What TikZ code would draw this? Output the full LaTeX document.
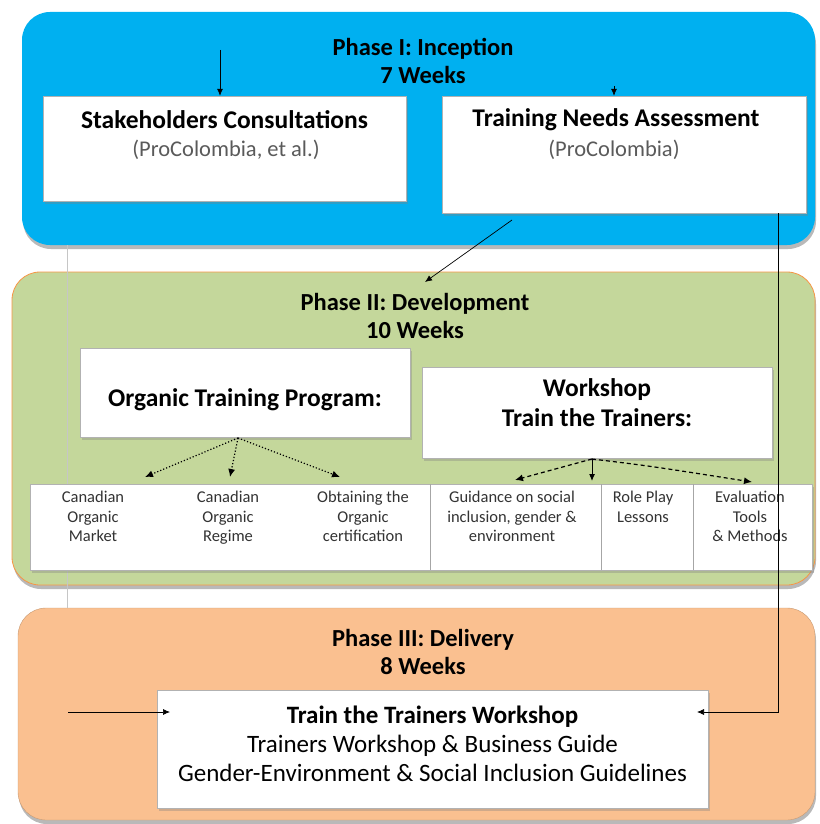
\documentclass[tikz,border=0pt]{standalone}
\usepackage{fontspec}
\setmainfont{Carlito}
\usetikzlibrary{shadows,arrows.meta}
\definecolor{pblue}{RGB}{0,176,240}
\definecolor{pgreen}{RGB}{196,215,155}
\definecolor{porange}{RGB}{247,150,70}
\definecolor{ppeach}{RGB}{250,192,144}
\definecolor{subgray}{RGB}{90,90,90}
\tikzset{
  phase/.style={rounded corners=28pt, drop shadow={shadow xshift=1pt, shadow yshift=-4pt, opacity=0.55}},
  wbox/.style={fill=white, draw=gray!60, line width=0.4pt, drop shadow={shadow xshift=2pt, shadow yshift=-3pt, opacity=0.35}},
  ttl/.style={font=\fontsize{24.5}{28}\selectfont\bfseries, align=center},
  boxttl/.style={font=\fontsize{25.5}{30}\selectfont\bfseries, align=center},
  boxsub/.style={font=\fontsize{22.5}{26}\selectfont, text=subgray, align=center},
  small/.style={font=\fontsize{16.5}{19.5}\selectfont, text=black!80, align=center},
  arr/.style={-{Latex[length=7pt,width=6pt]}, line width=0.7pt},
  dotarr/.style={-{Latex[length=8pt,width=7pt]}, line width=1.2pt, dotted},
  dasharr/.style={-{Latex[length=8pt,width=7pt]}, line width=1.2pt, dashed, dash pattern=on 4pt off 3pt},
}
\begin{document}
\begin{tikzpicture}[x=1pt,y=-1pt]
\useasboundingbox[fill=white] (0,0) rectangle (819,824);

% Phase backgrounds
\node[phase, fill=pblue, minimum width=793pt, minimum height=233pt] (ph1) at (418.5,128.5) {};
\node[phase, fill=pgreen, draw=porange, line width=0.8pt, minimum width=803pt, minimum height=313pt] (ph2) at (413.5,428.5) {};
\node[phase, fill=ppeach, draw=ppeach!80!black, line width=0.4pt, minimum width=797pt, minimum height=212pt] (ph3) at (416.5,714) {};

% faint frame line
\coordinate (f1) at (67,245);
\coordinate (f2) at (67,608);
\draw[gray!45, line width=0.6pt] (f1) -- (f2);

% Phase titles
\node[ttl] (t1) at (423,61) {Phase I: Inception\\7 Weeks};
\node[ttl] (t2) at (415,316) {Phase II: Development\\10 Weeks};
\node[ttl] (t3) at (423,652) {Phase III: Delivery\\8 Weeks};

% Phase I boxes
\node[wbox, minimum width=363pt, minimum height=105pt] (sc) at (224.5,148.5) {};
\node[boxttl] (sct) at (224.5,120) {Stakeholders Consultations};
\node[boxsub] (scs) at (226,150) {(ProColombia, et al.)};

\node[wbox, minimum width=364pt, minimum height=117pt] (tna) at (624,154.5) {};
\node[boxttl] (tnat) at (616,120) {Training Needs Assessment};
\node[boxsub] (tnas) at (614,150) {(ProColombia)};

% Phase II boxes
\node[wbox, minimum width=330pt, minimum height=89pt] (otp) at (245,392.5) {};
\node[boxttl] (otpt) at (245,400) {Organic Training Program:};
\node[wbox, minimum width=350pt, minimum height=91pt] (ws) at (597,412.5) {};
\node[boxttl] (wst) at (597,403) {Workshop\\Train the Trainers:};

\node[wbox, minimum width=782pt, minimum height=86pt] (row) at (421,527) {};
\coordinate (d1a) at (430,484); \coordinate (d1b) at (430,570);
\coordinate (d2a) at (601,484); \coordinate (d2b) at (601,570);
\coordinate (d3a) at (693,484); \coordinate (d3b) at (693,570);
\draw[gray!70, line width=0.6pt] (d1a) -- (d1b) (d2a) -- (d2b) (d3a) -- (d3b);

\node[small, anchor=north] (c1) at (93,488) {Canadian\\Organic\\Market};
\node[small, anchor=north] (c2) at (228,488) {Canadian\\Organic\\Regime};
\node[small, anchor=north] (c3) at (363,488) {Obtaining the\\Organic\\certification};
\node[small, anchor=north] (c4) at (512,488) {Guidance on social\\inclusion, gender \&\\environment};
\node[small, anchor=north] (c5) at (643,488) {Role Play\\Lessons};
\node[small, anchor=north] (c6) at (750,488) {Evaluation\\Tools\\\& Methods};

% Phase III box
\node[wbox, minimum width=551pt, minimum height=118pt] (tr) at (432.5,749) {};
\node[font=\fontsize{25}{29}\selectfont, align=center] (trt) at (432.5,744)
  {\textbf{Train the Trainers Workshop}\\Trainers Workshop \& Business Guide\\Gender-Environment \& Social Inclusion Guidelines};

% Connectors
\coordinate (a1) at (220,50);
\draw[arr] (a1) -- (a1 |- sc.north);
\coordinate (a2) at (614,86);
\draw[arr] (a2) -- (a2 |- tna.north);
\coordinate (b1) at (512,220);
\coordinate (b2) at (425,282);
\draw[arr] (b1) -- (b2);

% dotted arrows from Organic Training Program
\coordinate (o0) at (238,438);
\coordinate (o1) at (145,477);
\coordinate (o2) at (230,477);
\coordinate (o3) at (340,477);
\draw[dotarr] (o0) -- (o1);
\draw[dotarr] (o0) -- (o2);
\draw[dotarr] (o0) -- (o3);

% dashed arrows from Workshop
\coordinate (w0) at (592,459);
\coordinate (w1) at (515,480);
\coordinate (w2) at (592,481);
\coordinate (w3) at (752,482);
\draw[dasharr] (w0) -- (w1);
\draw[arr, line width=1pt] (w0) -- (w2);
\draw[dasharr] (w0) .. controls (650,466) .. (w3);

% long feedback line on the right
\coordinate (r0) at (778,213);
\coordinate (r1) at (778,712);
\coordinate (rt) at (697,712);
\draw[arr] (r0) -- (r1) -- (rt);

% left input arrow
\coordinate (l0) at (68,712);
\coordinate (lt) at (170,712);
\draw[arr] (l0) -- (lt);
\end{tikzpicture}
\end{document}
